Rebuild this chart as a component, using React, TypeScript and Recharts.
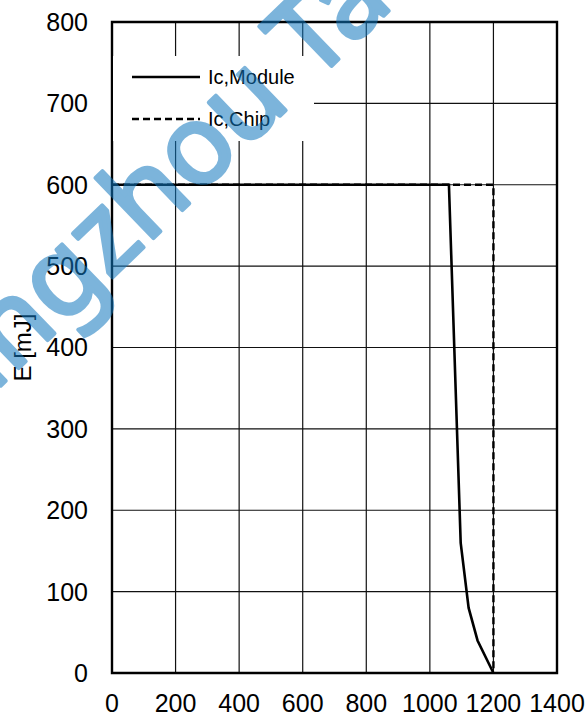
import React from "react";
import {
  CartesianGrid,
  Legend,
  Line,
  LineChart,
  ReferenceArea,
  XAxis,
  YAxis,
} from "recharts";

// tick labels
const icTicks = [0, 200, 400, 600, 800, 1000, 1200, 1400];
const eTicks = [0, 100, 200, 300, 400, 500, 600, 700, 800];

// Ic,Module — solid
const moduleIc = [0, 1060, 1097, 1122, 1150, 1200];
const moduleE = [600, 600, 160, 80, 40, 0];

// Ic,Chip — dashed
const chipIc = [0, 1200, 1200];
const chipE = [600, 600, 0];

const seriesOrder = ["Ic,Module", "Ic,Chip"];

const moduleData = moduleIc.map((ic, i) => ({ ic, e: moduleE[i] }));
const chipData = chipIc.map((ic, i) => ({ ic, e: chipE[i] }));

const FONT = "'Liberation Sans', Arial, sans-serif";
const DASH = "7 4";

function LegendBox({ payload }: { payload?: any[] }) {
  const items = [...(payload ?? [])].sort(
    (a, b) => seriesOrder.indexOf(a.value) - seriesOrder.indexOf(b.value)
  );
  return (
    <svg width={201} height={85} style={{ display: "block", background: "#fff" }}>
      {items.map((it, i) => {
        const y = 21 + i * 42;
        return (
          <g key={it.value}>
            <line
              x1={19}
              x2={87}
              y1={y}
              y2={y}
              stroke="#000"
              strokeWidth={2.5}
              strokeDasharray={it.value === "Ic,Chip" ? DASH : undefined}
            />
            <text
              x={95}
              y={y}
              dominantBaseline="central"
              fontSize={20}
              fontFamily={FONT}
              fill="#000"
            >
              {it.value}
            </text>
          </g>
        );
      })}
    </svg>
  );
}

function YLabel(props: any) {
  const vb = props.viewBox || { x: 0, y: 22, width: 112, height: 651 };
  const cx = vb.x + 22;
  const cy = vb.y + vb.height / 2;
  return (
    <text
      x={cx}
      y={cy}
      transform={`rotate(-90 ${cx} ${cy})`}
      textAnchor="middle"
      dominantBaseline="central"
      fontSize={24}
      fontFamily={FONT}
      fill="#000"
    >
      E [mJ]
    </text>
  );
}

export default function App() {
  return (
    <div
      style={{
        position: "absolute",
        left: 0,
        top: 0,
        width: 588,
        height: 715,
        background: "#fff",
        fontFamily: FONT,
        overflow: "hidden",
      }}
    >
      <LineChart
        width={588}
        height={715}
        margin={{ top: 22, right: 31, bottom: 0, left: 0 }}
      >
        <CartesianGrid stroke="#111" strokeWidth={1.2} />
        <XAxis
          type="number"
          dataKey="ic"
          domain={[0, 1400]}
          ticks={icTicks}
          interval={0}
          height={42}
          tickLine={false}
          tickSize={0}
          tickMargin={21}
          axisLine={false}
          tick={{ fontSize: 25, fill: "#000", fontFamily: FONT }}
        />
        <YAxis
          type="number"
          dataKey="e"
          domain={[0, 800]}
          ticks={eTicks}
          interval={0}
          width={112}
          tickLine={false}
          tickSize={0}
          tickMargin={24}
          axisLine={false}
          tick={{ fontSize: 25, fill: "#000", fontFamily: FONT }}
          label={<YLabel />}
        />
        <ReferenceArea
          x1={0}
          x2={1400}
          y1={0}
          y2={800}
          fill="none"
          stroke="#000"
          strokeWidth={2.4}
          ifOverflow="visible"
        />
        <Line
          data={moduleData}
          dataKey="e"
          name="Ic,Module"
          type="linear"
          stroke="#000"
          strokeWidth={2.6}
          dot={false}
          activeDot={false}
          isAnimationActive={false}
        />
        <Line
          data={chipData}
          dataKey="e"
          name="Ic,Chip"
          type="linear"
          stroke="#000"
          strokeWidth={2.4}
          strokeDasharray={DASH}
          dot={false}
          activeDot={false}
          isAnimationActive={false}
        />
        <Legend
          layout="vertical"
          align="center"
          verticalAlign="middle"
          content={(p: any) => <LegendBox payload={p.payload} />}
          wrapperStyle={{ left: 113, top: 56, width: 201, height: 85 }}
        />
      </LineChart>
      <svg
        width={588}
        height={715}
        style={{ position: "absolute", left: 0, top: 0, pointerEvents: "none" }}
      >
        <g opacity={0.55}>
          <text
            x={-91}
            y={474}
            transform="rotate(-44 -91 474)"
            fontSize={110}
            fontFamily="'Noto Sans', sans-serif"
            fill="rgb(18,120,191)"
            stroke="rgb(18,120,191)"
            strokeWidth={4}
            strokeLinejoin="round"
          >
            Hangzhou Ta
          </text>
        </g>
      </svg>
    </div>
  );
}
